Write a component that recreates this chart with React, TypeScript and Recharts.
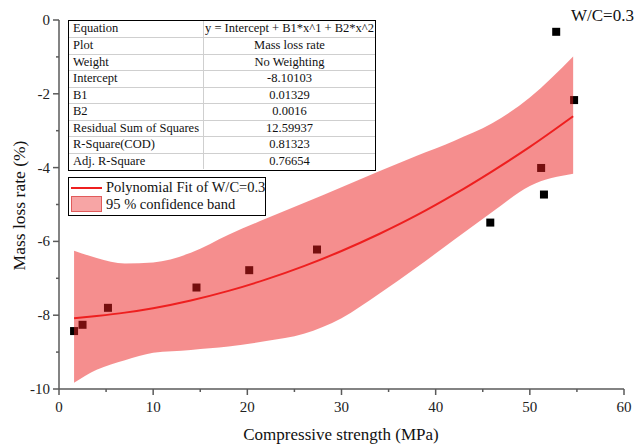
import React from 'react';
import { ComposedChart, XAxis, YAxis, Scatter, Area, Line } from 'recharts';

// measured specimens: compressive strength (MPa) vs. mass loss rate (%)
const strength = [1.6, 2.5, 5.2, 14.6, 20.2, 27.4, 45.8, 51.2, 51.5, 52.8, 54.7];
const massLoss = [-8.43, -8.26, -7.8, -7.25, -6.78, -6.22, -5.49, -4.01, -4.73, -0.32, -2.17];

// fitted curve y = -8.10103 + 0.01329x + 0.0016x^2 with its 95% band
const curveX = [1.6, 4, 7, 10, 14, 18, 22, 26, 30, 34, 38, 42, 46, 50, 54.6];
const fitY = [-8.08, -8.02, -7.93, -7.81, -7.6, -7.34, -7.03, -6.67, -6.26, -5.8, -5.29, -4.72, -4.1, -3.44, -2.61];
const bandLow = [-9.83, -9.48, -9.22, -9.02, -8.94, -8.85, -8.7, -8.5, -8.08, -7.42, -6.7, -5.95, -5.2, -4.5, -4.17];
const bandHigh = [-6.25, -6.45, -6.6, -6.57, -6.31, -5.82, -5.38, -4.96, -4.53, -4.1, -3.68, -3.27, -2.8, -2.1, -0.99];

const xTicks = [0, 5, 10, 15, 20, 25, 30, 35, 40, 45, 50, 55, 60];
const yTicks = [-10, -9, -8, -7, -6, -5, -4, -3, -2, -1, 0];

const fitTable: [string, string][] = [
  ['Equation', 'y = Intercept + B1*x^1 + B2*x^2'],
  ['Plot', 'Mass loss rate'],
  ['Weight', 'No Weighting'],
  ['Intercept', '-8.10103'],
  ['B1', '0.01329'],
  ['B2', '0.0016'],
  ['Residual Sum of Squares', '12.59937'],
  ['R-Square(COD)', '0.81323'],
  ['Adj. R-Square', '0.76654'],
];

const points = strength.map((x, i) => ({ x, y: massLoss[i] }));
const curve = curveX.map((x, i) => ({ x, fit: fitY[i], band: [bandLow[i], bandHigh[i]] }));

const FONT = "'Liberation Serif', 'Times New Roman', Tinos, 'DejaVu Serif', serif";
const AXIS = '#5a5a5a';
const RED = '#ee1f1f';

const XTick = ({ x, y, payload }: any) => {
  const major = payload.value % 10 === 0;
  return (
    <g>
      <line x1={x} x2={x} y1={y} y2={y + (major ? 6 : 3)} stroke={AXIS} strokeWidth={1.5} />
      {major && (
        <text x={x} y={y + 23} textAnchor="middle" fontSize={15} style={{ fontFamily: FONT }} fill="#222">
          {payload.value}
        </text>
      )}
    </g>
  );
};

const YTick = ({ x, y, payload }: any) => {
  const major = payload.value % 2 === 0;
  return (
    <g>
      <line x1={x - (major ? 6 : 3)} x2={x} y1={y} y2={y} stroke={AXIS} strokeWidth={1.5} />
      {major && (
        <text x={x - 9} y={y + 5} textAnchor="end" fontSize={15} style={{ fontFamily: FONT }} fill="#222">
          {payload.value}
        </text>
      )}
    </g>
  );
};

const Square = ({ cx, cy }: any) => <rect x={cx - 4} y={cy - 4} width={8} height={8} fill="#000" />;

const ResultTable = () => (
  <div
    style={{
      position: 'absolute', left: 68, top: 20, width: 308, height: 151,
      border: '1.5px solid #000', boxSizing: 'border-box', background: '#fff',
      fontFamily: FONT, fontSize: 12.5, color: '#111',
    }}
  >
    {fitTable.map(([k, v], i) => (
      <div
        key={k}
        style={{
          display: 'flex', height: 148 / 9, boxSizing: 'border-box',
          borderTop: i === 0 ? 'none' : '1px solid #cfcfcf', lineHeight: `${148 / 9 - 1}px`,
        }}
      >
        <div style={{ width: 130, paddingLeft: 4, borderRight: '1px solid #cfcfcf', whiteSpace: 'nowrap' }}>{k}</div>
        <div style={{ flex: 1, textAlign: 'center', whiteSpace: 'nowrap' }}>{v}</div>
      </div>
    ))}
  </div>
);

const FitLegend = () => (
  <div
    style={{
      position: 'absolute', left: 68, top: 177, width: 198, height: 39,
      border: '1.5px solid #000', boxSizing: 'border-box', background: '#fff',
      fontFamily: FONT, fontSize: 14.5, color: '#111',
    }}
  >
    <div style={{ position: 'absolute', left: 2, top: 8.5, width: 31, height: 2, background: RED }} />
    <div style={{ position: 'absolute', left: 37, top: 0, lineHeight: '19px', whiteSpace: 'nowrap' }}>
      Polynomial Fit of W/C=0.3
    </div>
    <div
      style={{
        position: 'absolute', left: 2, top: 18, width: 31, height: 16, boxSizing: 'border-box',
        background: 'rgba(235,30,30,0.4)', border: '1px solid rgba(215,60,60,0.7)',
      }}
    />
    <div style={{ position: 'absolute', left: 37, top: 17, lineHeight: '19px', whiteSpace: 'nowrap' }}>
      95 % confidence band
    </div>
  </div>
);

export default function App() {
  return (
    <div style={{ position: 'absolute', left: 0, top: 0, width: 635, height: 446, background: '#fff' }}>
      <ComposedChart width={635} height={446} data={curve} margin={{ top: 20, right: 11, bottom: 0, left: 0 }}>
        <XAxis
          dataKey="x"
          type="number"
          domain={[0, 60]}
          ticks={xTicks}
          interval={0}
          tickSize={0}
          tickMargin={0}
          tick={<XTick />}
          height={57}
          stroke={AXIS}
          strokeWidth={1.5}
          label={{
            content: ({ viewBox }: any) => (
              <text x={341} y={viewBox.y + 51} textAnchor="middle" fontSize={17} style={{ fontFamily: FONT }} fill="#111">
                Compressive strength (MPa)
              </text>
            ),
          }}
        />
        <YAxis
          type="number"
          domain={[-10, 0]}
          ticks={yTicks}
          interval={0}
          tickSize={0}
          tickMargin={0}
          tick={<YTick />}
          width={59}
          stroke={AXIS}
          strokeWidth={1.5}
          label={{
            content: ({ viewBox }: any) => {
              const cx = 25;
              const cy = viewBox.y + viewBox.height / 2 + 1;
              return (
                <text
                  x={cx}
                  y={cy}
                  transform={`rotate(-90, ${cx}, ${cy})`}
                  textAnchor="middle"
                  fontSize={17.5}
                  style={{ fontFamily: FONT }}
                  fill="#111"
                >
                  Mass loss rate (%)
                </text>
              );
            },
          }}
        />
        <Scatter data={points} dataKey="y" shape={<Square />} isAnimationActive={false} zIndex={50} />
        <Area
          type="monotone"
          dataKey="band"
          stroke="none"
          fill="#eb1e1e"
          fillOpacity={0.5}
          isAnimationActive={false}
          activeDot={false}
          zIndex={100}
        />
        <Line
          type="monotone"
          dataKey="fit"
          stroke={RED}
          strokeWidth={2}
          dot={false}
          activeDot={false}
          isAnimationActive={false}
          zIndex={400}
        />
        <text x={571} y={21} fontSize={17} style={{ fontFamily: FONT }} fill="#111">
          W/C=0.3
        </text>
      </ComposedChart>
      <ResultTable />
      <FitLegend />
    </div>
  );
}
